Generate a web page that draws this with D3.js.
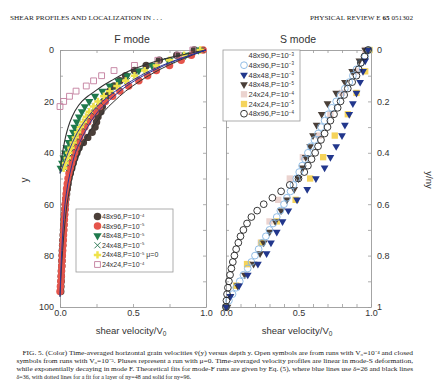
<!DOCTYPE html>
<html>
<head>
<meta charset="utf-8">
<script src="https://cdn.jsdelivr.net/npm/d3@7"></script>
<style>
  body { margin: 0; background: #fff; }
  svg text { font-family: "Liberation Sans", Arial, sans-serif; fill: #333; }
  svg text.serif { font-family: "Liberation Serif", "Times New Roman", serif; fill: #222; }
</style>
</head>
<body>
<svg></svg>
<script>
// ---------- F mode (depth y in grain rows, velocity / V0) ----------
const F_DEPTH_96 = [0,2,4,6,8,10,12,14,16,18,20,22,24,26,28,30,32,34,36,38,40,42,44,46,48,50,52,54,56,58,60,62,64,66,68,70,72,74,76,78,80,82,84,86,88,90,92,94];
const F_BLACK_CIRCLE = [.92,.80,.68,.59,.51,.45,.41,.37,.34,.32,.30,.29,.28,.26,.25,.24,.22,.19,.16,.13,.115,.10,.09,.08,.07,.06,.055,.05,.045,.04,.037,.034,.031,.028,.026,.024,.022,.02,.018,.016,.015,.013,.012,.01,.009,.008,.006,.005];
const F_RED_CIRCLE = [.98,.90,.83,.75,.66,.60,.54,.47,.41,.36,.31,.27,.24,.21,.19,.17,.15,.135,.12,.11,.10,.09,.08,.07,.062,.055,.05,.045,.042,.039,.036,.034,.032,.03,.028,.026,.024,.022,.02,.018,.016,.014,.012,.01,.008,.006,.003,0];
const F_DEPTH_48 = [0,2,4,6,8,10,12,14,16,18,20,22,24,26,28,30,32,34,36,38,40,42,44,46];
const F_GREEN_TRI = [.95,.86,.74,.63,.54,.46,.40,.34,.29,.24,.20,.17,.15,.13,.115,.10,.09,.075,.06,.045,.035,.025,.015,.005];
const F_GREEN_X = [.97,.86,.76,.67,.59,.52,.46,.40,.35,.31,.27,.24,.21,.19,.17,.15,.13,.115,.10,.085,.07,.055,.04,.03];
const F_YELLOW_PLUS = [.96,.85,.75,.66,.58,.51,.45,.39,.34,.30,.26,.23,.20,.18,.16,.14,.12,.105,.09,.075,.06,.05,.035,.025];
const F_DEPTH_24 = [0,2,4,6,8,10,12,14,16,18,20,22];
const F_PINK_SQ = [.91,.81,.67,.51,.37,.285,.23,.18,.11,.065,.025,0];

// theoretical fits
const FIT_DEPTH_48 = [0,2,4,6,8,10,12,14,16,18,20,24,28,32,36,40,44,48];
const FIT_BLACK_48 = [1,.83,.68,.57,.48,.41,.35,.29,.24,.19,.15,.10,.068,.046,.03,.017,.008,0];
const FIT_DEPTH_B48 = [0,4,8,12,16,20,24,28,32,36,40,44,48];
const FIT_BLUE_48 = [1,.79,.62,.49,.38,.29,.22,.165,.12,.085,.055,.028,0];
const FIT_DEPTH_96 = [0,4,8,12,16,20,24,28,32,36,40,44,48,52,56,60,66,72,78,84,90,96];
const FIT_BLUE_96 = [1,.80,.64,.51,.41,.33,.26,.21,.17,.135,.105,.085,.068,.054,.043,.034,.025,.018,.012,.007,.003,0];
const FIT_BLACK_96 = [1,.82,.67,.55,.45,.37,.30,.25,.20,.165,.135,.11,.09,.073,.06,.048,.036,.026,.018,.011,.005,0];

// ---------- S mode (depth y/ny) ----------
const S_DEPTH_40 = [0,.025,.05,.075,.1,.125,.15,.175,.2,.225,.25,.275,.3,.325,.35,.375,.4,.425,.45,.475,.5,.525,.55,.575,.6,.625,.65,.675,.7,.725,.75,.775,.8,.825,.85,.875,.9,.925,.95,.975,1];
const S_BLUE_CIRCLE = [.985,.96,.93,.90,.875,.85,.82,.79,.76,.73,.705,.68,.655,.635,.61,.585,.565,.545,.525,.505,.485,.465,.445,.42,.40,.375,.35,.325,.30,.275,.25,.225,.20,.175,.15,.12,.095,.07,.045,.02,0];
const S_BLACK_CIRCLE = [.98,.955,.93,.915,.90,.87,.84,.815,.79,.77,.745,.72,.70,.68,.655,.635,.615,.59,.565,.54,.50,.44,.38,.32,.26,.215,.175,.145,.12,.10,.085,.07,.058,.047,.037,.028,.02,.013,.007,.003,0];
const S_DEPTH_24 = [0,.042,.083,.125,.167,.208,.25,.292,.333,.375,.417,.458,.5,.542,.583,.625,.667,.708,.75,.792,.833,.875,.917,.958,1];
const S_NAVY_TRI = [.98,.96,.945,.925,.90,.875,.85,.82,.80,.76,.72,.68,.62,.56,.49,.43,.39,.35,.31,.28,.22,.15,.09,.03,0];
const S_BROWN_TRI = [.96,.92,.87,.82,.76,.70,.66,.625,.60,.58,.55,.53,.50,.47,.42,.38,.34,.30,.26,.235,.19,.13,.08,.03,.01];
const S_DEPTH_12 = [0,.083,.167,.25,.333,.417,.5,.583,.667,.75,.833,.917,1];
const S_PINK_SQ = [.96,.90,.80,.72,.64,.53,.44,.36,.30,.24,.15,.07,0];
const S_YELLOW_SQ = [.99,.96,.90,.84,.75,.67,.58,.48,.35,.245,.145,.07,0];

// ticks
const F_X_TICKS = [0,.25,.5,.75,1];
const F_Y_TICKS = [0,10,20,30,40,50,60,70,80,90,100];
const S_X_TICKS = [0,.1,.2,.3,.4,.5,.6,.7,.8,.9,1];
const S_Y_TICKS = [0,.1,.2,.3,.4,.5,.6,.7,.8,.9,1];
const X_LABELS = [0,.5,1];

const LEFT_LEGEND = [
  ["48x96,P=10", "−4", ""],
  ["48x96,P=10", "−5", ""],
  ["48x48,P=10", "−5", ""],
  ["24x48,P=10", "−5", ""],
  ["24x48,P=10", "−5", " μ=0"],
  ["24x24,P=10", "−4", ""],
];
const RIGHT_LEGEND = [
  ["48x96,P=10", "−3"],
  ["48x96,P=10", "−3"],
  ["48x48,P=10", "−3"],
  ["48x48,P=10", "−5"],
  ["24x24,P=10", "−4"],
  ["24x24,P=10", "−5"],
  ["48x96,P=10", "−4"],
];

const CAPTION = [
  "FIG. 5. (Color) Time-averaged horizontal grain velocities v\u0304(y) versus depth y. Open symbols are from runs with V\u2080=10\u207b\u2074 and closed",
  "symbols from runs with V\u2080=10\u207b\u2075. Pluses represent a run with \u03bc=0. Time-averaged velocity profiles are linear in mode-S deformation,",
  "while exponentially decaying in mode F. Theoretical fits for mode-F runs are given by Eq. (5), where blue lines use \u03b4=26 and black lines",
  "\u03b4=36, with dotted lines for a fit for a layer of ny=48 and solid for ny=96.",
];

// ---------- setup ----------
const svg = d3.select("svg").attr("width", 434).attr("height", 390);

const xF = d3.scaleLinear().domain([0, 1]).range([60, 206]);
const yF = d3.scaleLinear().domain([0, 100]).range([50, 307]);
const xS = d3.scaleLinear().domain([0, 1]).range([226, 371]);
const yS = d3.scaleLinear().domain([0, 1]).range([50, 307]);

const AXIS_GREY = "#9a9a9a";

const styleAxis = (g) => {
  g.attr("font-size", 9).attr("font-family", null);
  g.select(".domain").attr("stroke", AXIS_GREY).attr("stroke-width", 0.9);
  g.selectAll(".tick line").attr("stroke", AXIS_GREY).attr("stroke-width", 0.8);
  g.selectAll(".tick text").attr("fill", "#333");
};

const fmtX = (d) => (X_LABELS.includes(d) ? d3.format(".1f")(d) : "");

// F mode axes
svg.append("g").attr("transform", "translate(0,307)")
  .call(d3.axisBottom(xF).tickValues(F_X_TICKS).tickSize(-3).tickSizeOuter(0).tickPadding(3).tickFormat(fmtX))
  .call(styleAxis);
svg.append("g").attr("transform", "translate(0,50)")
  .call(d3.axisTop(xF).tickValues(F_X_TICKS).tickSize(-3).tickSizeOuter(0).tickFormat(""))
  .call(styleAxis);
svg.append("g").attr("transform", "translate(60,0)")
  .call(d3.axisLeft(yF).tickValues(F_Y_TICKS).tickSize(-3).tickSizeOuter(0).tickPadding(6)
    .tickFormat((d) => (d % 20 === 0 ? d : "")))
  .call(styleAxis);
svg.append("g").attr("transform", "translate(206,0)")
  .call(d3.axisRight(yF).tickValues(F_Y_TICKS).tickSize(-3).tickSizeOuter(0).tickFormat(""))
  .call(styleAxis);

// S mode axes
svg.append("g").attr("transform", "translate(0,307)")
  .call(d3.axisBottom(xS).tickValues(S_X_TICKS).tickSize(-3).tickSizeOuter(0).tickPadding(3).tickFormat(fmtX))
  .call(styleAxis);
svg.append("g").attr("transform", "translate(0,50)")
  .call(d3.axisTop(xS).tickValues(S_X_TICKS).tickSize(-3).tickSizeOuter(0).tickFormat(""))
  .call(styleAxis);
svg.append("g").attr("transform", "translate(226,0)")
  .call(d3.axisLeft(yS).tickValues(S_Y_TICKS).tickSize(-3).tickSizeOuter(0).tickFormat(""))
  .call(styleAxis);
svg.append("g").attr("transform", "translate(371,0)")
  .call(d3.axisRight(yS).tickValues(S_Y_TICKS).tickSize(-3).tickSizeOuter(0).tickPadding(6)
    .tickFormat((d, i) => (i % 2 === 0 ? (d === 0 || d === 1 ? d : d3.format(".1f")(d)) : "")))
  .call(styleAxis);

// ---------- markers ----------
const symbolPath = (type, size) => d3.symbol().type(type).size(size)();

const MARKERS = {
  blackDot: { d: symbolPath(d3.symbolCircle, 44), fill: "#4b3f39", stroke: "none", rot: 0 },
  redDot: { d: symbolPath(d3.symbolCircle, 44), fill: "#e5544b", stroke: "none", rot: 0 },
  greenTri: { d: symbolPath(d3.symbolTriangle, 30), fill: "#1f7a4d", stroke: "none", rot: 180 },
  greenX: { d: symbolPath(d3.symbolTimes, 26), fill: "none", stroke: "#1d6e48", rot: 0 },
  yellowPlus: { d: symbolPath(d3.symbolCross, 30), fill: "#efe24a", stroke: "none", rot: 0 },
  pinkSq: { d: symbolPath(d3.symbolSquare, 34), fill: "none", stroke: "#c27d9d", rot: 0 },
  blueRing: { d: symbolPath(d3.symbolCircle, 36), fill: "none", stroke: "#86b6e2", rot: 0 },
  navyTri: { d: symbolPath(d3.symbolTriangle, 26), fill: "#22378c", stroke: "none", rot: 180 },
  brownTri: { d: symbolPath(d3.symbolTriangle, 26), fill: "#4a3f38", stroke: "none", rot: 180 },
  paleSq: { d: symbolPath(d3.symbolSquare, 40), fill: "#ebd3cf", stroke: "none", rot: 0 },
  goldSq: { d: symbolPath(d3.symbolSquare, 40), fill: "#f5d35a", stroke: "none", rot: 0 },
  blackRing: { d: symbolPath(d3.symbolCircle, 36), fill: "none", stroke: "#222", rot: 0 },
};

const drawSeries = (x, y, depth, values, m, cls) => {
  svg.append("g")
    .selectAll("path." + cls)
    .data(depth.map((yy, i) => ({ y: yy, v: values[i] })))
    .join("path")
    .attr("class", cls)
    .attr("d", m.d)
    .attr("fill", m.fill)
    .attr("stroke", m.stroke)
    .attr("stroke-width", 0.9)
    .attr("transform", (d) => `translate(${x(d.v)},${y(d.y)}) rotate(${m.rot})`);
};

// F mode points
drawSeries(xF, yF, F_DEPTH_96, F_BLACK_CIRCLE, MARKERS.blackDot, "f-black");
drawSeries(xF, yF, F_DEPTH_96, F_RED_CIRCLE, MARKERS.redDot, "f-red");
drawSeries(xF, yF, F_DEPTH_48, F_GREEN_TRI, MARKERS.greenTri, "f-green");
drawSeries(xF, yF, F_DEPTH_48, F_GREEN_X, MARKERS.greenX, "f-x");
drawSeries(xF, yF, F_DEPTH_48, F_YELLOW_PLUS, MARKERS.yellowPlus, "f-plus");
drawSeries(xF, yF, F_DEPTH_24, F_PINK_SQ, MARKERS.pinkSq, "f-pink");

// fit lines
const fitLine = (depth, values) =>
  d3.line().x((d) => xF(d.v)).y((d) => yF(d.y)).curve(d3.curveMonotoneY)(
    depth.map((yy, i) => ({ y: yy, v: values[i] })));

[
  [FIT_DEPTH_96, FIT_BLACK_96, "#333", 1],
  [FIT_DEPTH_48, FIT_BLACK_48, "#333", 1.1],
  [FIT_DEPTH_96, FIT_BLUE_96, "#2a3596", 1],
  [FIT_DEPTH_B48, FIT_BLUE_48, "#2a3596", 1],
].forEach(([dep, vals, col, w]) => {
  svg.append("path").attr("d", fitLine(dep, vals))
    .attr("fill", "none").attr("stroke", col).attr("stroke-width", w);
});

// S mode points
drawSeries(xS, yS, S_DEPTH_12, S_PINK_SQ, MARKERS.paleSq, "s-pink");
drawSeries(xS, yS, S_DEPTH_12, S_YELLOW_SQ, MARKERS.goldSq, "s-gold");
drawSeries(xS, yS, S_DEPTH_24, S_BROWN_TRI, MARKERS.brownTri, "s-brown");
drawSeries(xS, yS, S_DEPTH_40, S_BLUE_CIRCLE, MARKERS.blueRing, "s-blue");
drawSeries(xS, yS, S_DEPTH_24, S_NAVY_TRI, MARKERS.navyTri, "s-navy");
drawSeries(xS, yS, S_DEPTH_40, S_BLACK_CIRCLE, MARKERS.blackRing, "s-blackring");

// ---------- legends ----------
const legendText = (g, x, y, parts, size) => {
  const t = g.append("text").attr("x", x).attr("y", y).attr("font-size", size).attr("fill", "#333");
  t.append("tspan").text(parts[0]);
  t.append("tspan").attr("dy", -2.5).attr("font-size", size * 0.6).text(parts[1]);
  if (parts[2]) t.append("tspan").attr("dy", 2.5).text(parts[2]);
};

const leftLeg = svg.append("g");
leftLeg.append("rect").attr("x", 76).attr("y", 209).attr("width", 97).attr("height", 63)
  .attr("fill", "#fff").attr("stroke", AXIS_GREY).attr("stroke-width", 0.8);
const LEFT_LEG_MARKS = [MARKERS.blackDot, MARKERS.redDot, MARKERS.greenTri, MARKERS.greenX, MARKERS.yellowPlus, MARKERS.pinkSq];
LEFT_LEGEND.forEach((parts, i) => {
  const yy = 216.5 + i * 9.6;
  const m = LEFT_LEG_MARKS[i];
  leftLeg.append("path").attr("d", m.d).attr("fill", m.fill).attr("stroke", m.stroke).attr("stroke-width", 0.9)
    .attr("transform", `translate(97.5,${yy}) rotate(${m.rot})`);
  legendText(leftLeg, 102, yy + 2.5, parts, 7);
});

const rightLeg = svg.append("g");
rightLeg.append("rect").attr("x", 223).attr("y", 50).attr("width", 77).attr("height", 71)
  .attr("fill", "#fff").attr("stroke", AXIS_GREY).attr("stroke-width", 0.8);
const RIGHT_LEG_MARKS = [null, MARKERS.blueRing, MARKERS.navyTri, MARKERS.brownTri, MARKERS.paleSq, MARKERS.goldSq, MARKERS.blackRing];
RIGHT_LEGEND.forEach((parts, i) => {
  const yy = 55.5 + i * 9.7;
  const m = RIGHT_LEG_MARKS[i];
  if (m) {
    rightLeg.append("path").attr("d", m.d).attr("fill", m.fill).attr("stroke", m.stroke).attr("stroke-width", 0.9)
      .attr("transform", `translate(244,${yy}) rotate(${m.rot})`);
  }
  legendText(rightLeg, 248.5, yy + 2.7, parts, 7.5);
});

// ---------- titles and labels ----------
svg.append("text").attr("x", 132).attr("y", 43).attr("text-anchor", "middle").attr("font-size", 10.5).text("F mode");
svg.append("text").attr("x", 298).attr("y", 43).attr("text-anchor", "middle").attr("font-size", 10.5).text("S mode");

const xLabel = (cx) => {
  const t = svg.append("text").attr("x", cx).attr("y", 334).attr("text-anchor", "middle").attr("font-size", 9.5);
  t.append("tspan").text("shear velocity/V");
  t.append("tspan").attr("dy", 2).attr("font-size", 6.5).text("0");
};
xLabel(131);
xLabel(297);

svg.append("text").attr("transform", "translate(28,180) rotate(-90)").attr("text-anchor", "middle")
  .attr("font-size", 10).text("y");
svg.append("text").attr("transform", "translate(426,180) rotate(90)").attr("text-anchor", "middle")
  .attr("font-size", 9.5).text("y/ny");

// header
svg.append("text").attr("class", "serif").attr("x", 10).attr("y", 19.5).attr("font-size", 6.2)
  .attr("textLength", 152).attr("lengthAdjust", "spacingAndGlyphs").text("SHEAR PROFILES AND LOCALIZATION IN . . .");
const hdr = svg.append("text").attr("class", "serif").attr("x", 310).attr("y", 19.5).attr("font-size", 6.2)
  .attr("textLength", 103).attr("lengthAdjust", "spacingAndGlyphs");
hdr.append("tspan").text("PHYSICAL REVIEW E ");
hdr.append("tspan").attr("font-weight", "bold").text("65");
hdr.append("tspan").text(" 051302");

// caption
CAPTION.forEach((line, i) => {
  const t = svg.append("text").attr("class", "serif").attr("x", i === 0 ? 22.5 : 16.5)
    .attr("y", 354.5 + i * 8).attr("font-size", 6).text(line);
  if (i < 3) t.attr("textLength", i === 0 ? 390.5 : 396.5).attr("lengthAdjust", "spacingAndGlyphs");
});
</script>
</body>
</html>
